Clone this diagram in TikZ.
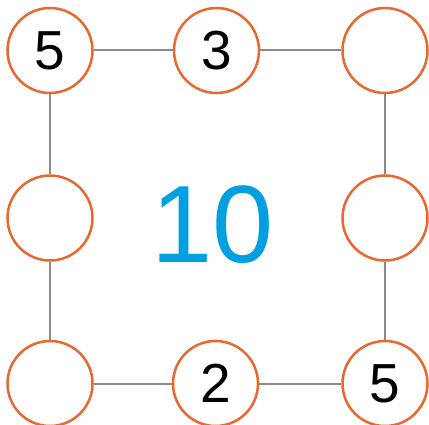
\documentclass[tikz,border=0pt]{standalone}
\usepackage{fontspec}
\setmainfont{Liberation Sans}
\definecolor{ring}{HTML}{E8692F}
\definecolor{bigblue}{HTML}{00A0E0}
\definecolor{link}{HTML}{8A8A8A}
\begin{document}
\begin{tikzpicture}[x=1pt,y=-1pt,
  cell/.style={circle,draw=ring,line width=2.5pt,minimum size=85pt,inner sep=0pt,fill=white,font=\fontsize{55}{55}\selectfont},
  edge/.style={draw=link,line width=2pt}]
\useasboundingbox (0,0) rectangle (429,425);
\node[cell] (a) at (50,50.5) {5};
\node[cell] (b) at (216.5,50.5) {3};
\node[cell] (c) at (385,50.5) {};
\node[cell] (d) at (50,218) {};
\node[cell] (e) at (385,218) {};
\node[cell] (f) at (50,383.5) {};
\node[cell] (g) at (215.5,383.5) {2};
\node[cell] (h) at (385,383.5) {5};
\node[text=bigblue,font=\fontsize{110}{110}\selectfont,anchor=base west,inner sep=0pt] (t) at (151,262) {10};
\draw[edge] (a) -- (b);
\draw[edge] (b) -- (c);
\draw[edge] (c) -- (e);
\draw[edge] (e) -- (h);
\draw[edge] (h) -- (g);
\draw[edge] (g) -- (f);
\draw[edge] (f) -- (d);
\draw[edge] (d) -- (a);
\end{tikzpicture}
\end{document}
